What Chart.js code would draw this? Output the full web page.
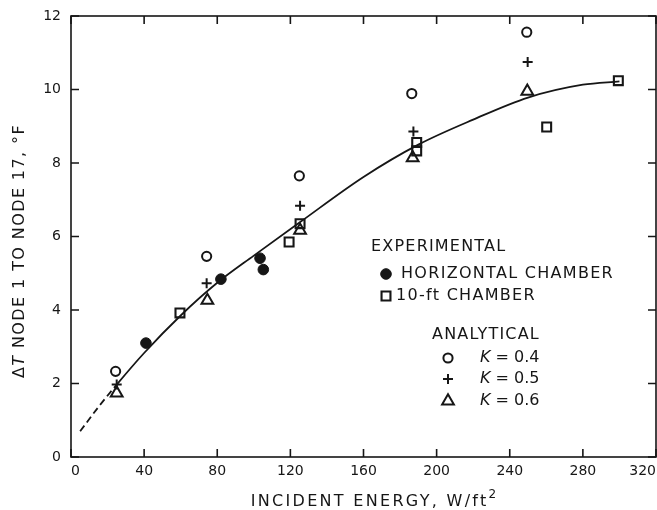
<!DOCTYPE html>
<html>
<head>
<meta charset="utf-8">
<script src="https://cdn.jsdelivr.net/npm/chart.js@4/dist/chart.umd.min.js"></script>
<style>
  html, body { margin: 0; padding: 0; background: #fff; }
  canvas { display: block; }
</style>
</head>
<body>
<canvas id="grafico" width="657" height="510"></canvas>
<script>
// datos
const curvaX = [5, 15, 25, 40, 60, 80, 100, 125, 160, 190, 220, 250, 280, 300];
const curvaY = [0.70, 1.36, 1.97, 2.83, 3.85, 4.74, 5.48, 6.38, 7.62, 8.50, 9.18, 9.78, 10.13, 10.22];

const horizontalX = [41, 82, 103.4, 105.2];
const horizontalY = [3.10, 4.84, 5.41, 5.10];

const camara10X = [59.6, 119.3, 125.3, 189.1, 189.1, 260.2, 299.4];
const camara10Y = [3.92, 5.85, 6.35, 8.56, 8.33, 8.98, 10.24];

const k04X = [24.4, 74.2, 124.9, 186.4, 249.3];
const k04Y = [2.33, 5.46, 7.65, 9.89, 11.56];

const k05X = [25, 74.2, 125.3, 187.3, 249.8];
const k05Y = [1.97, 4.73, 6.84, 8.86, 10.75];

const k06X = [25, 74.6, 125.3, 186.9, 249.6];
const k06Y = [1.74, 4.26, 6.17, 8.14, 9.95];

const ticksX = [0, 40, 80, 120, 160, 200, 240, 280, 320];
const ticksY = [0, 2, 4, 6, 8, 10, 12];

const fuente = 'DejaVu Sans';
const negro = '#161616';

const puntos = (xs, ys) => xs.map((x, i) => ({ x: x, y: ys[i] }));

function escribir(ctx, partes, x, y, rot, alinear) {
  ctx.save();
  ctx.translate(x, y);
  ctx.rotate(rot || 0);
  ctx.textBaseline = 'middle';
  ctx.textAlign = 'left';
  ctx.fillStyle = negro;
  let total = 0;
  partes.forEach(p => {
    ctx.font = p.font;
    ctx.letterSpacing = p.esp || '0px';
    total += ctx.measureText(p.text).width;
  });
  let cx = alinear === 'left' ? 0 : -total / 2;
  partes.forEach(p => {
    ctx.font = p.font;
    ctx.letterSpacing = p.esp || '0px';
    ctx.fillText(p.text, cx, p.dy || 0);
    cx += ctx.measureText(p.text).width;
  });
  ctx.restore();
}

// marco con marcas hacia dentro en los cuatro lados
const marco = {
  id: 'marco',
  afterDraw(chart) {
    const ctx = chart.ctx;
    const a = chart.chartArea;
    const sx = chart.scales.x, sy = chart.scales.y;
    ctx.save();
    ctx.strokeStyle = negro;
    ctx.lineWidth = 1.6;
    ctx.strokeRect(a.left, a.top, a.right - a.left, a.bottom - a.top);
    ctx.beginPath();
    ticksX.forEach(v => {
      const px = sx.getPixelForValue(v);
      ctx.moveTo(px, a.bottom); ctx.lineTo(px, a.bottom - 8);
      ctx.moveTo(px, a.top); ctx.lineTo(px, a.top + 8);
    });
    ticksY.forEach(v => {
      const py = sy.getPixelForValue(v);
      ctx.moveTo(a.left, py); ctx.lineTo(a.left + 8, py);
      ctx.moveTo(a.right, py); ctx.lineTo(a.right - 8, py);
    });
    ctx.stroke();
    ctx.restore();

    // titulos de los ejes
    escribir(ctx, [
      { text: 'INCIDENT ENERGY, W/ft', font: '16px ' + fuente, esp: '2.3px' },
      { text: '2', font: '12px ' + fuente, dy: -7 }
    ], (a.left + a.right) / 2 + 10, 502, 0);
    escribir(ctx, [
      { text: '\u0394', font: '16px ' + fuente, esp: '1.4px' },
      { text: 'T', font: 'italic 16px ' + fuente, esp: '1.4px' },
      { text: ' NODE 1 TO NODE 17, \u00B0F', font: '16px ' + fuente, esp: '1.4px' }
    ], 20, 251, -Math.PI / 2);
  }
};

// leyenda dentro del area del grafico
const leyenda = {
  id: 'leyenda',
  afterDraw(chart) {
    const ctx = chart.ctx;
    const f = '16px ' + fuente;
    const marca = (i, x, y) => {
      const ds = chart.data.datasets[i];
      ctx.save();
      ctx.strokeStyle = ds.borderColor;
      ctx.fillStyle = ds.backgroundColor;
      ctx.lineWidth = ds.borderWidth;
      Chart.helpers.drawPoint(ctx, { pointStyle: ds.pointStyle, radius: ds.pointRadius, rotation: 0, borderWidth: ds.borderWidth }, x, y);
      ctx.restore();
    };
    escribir(ctx, [{ text: 'EXPERIMENTAL', font: f, esp: '1.2px' }], 371, 247, 0, 'left');
    marca(0, 386, 274);
    escribir(ctx, [{ text: chart.data.datasets[0].label, font: f, esp: '1.3px' }], 401, 274, 0, 'left');
    marca(1, 386, 296);
    escribir(ctx, [{ text: chart.data.datasets[1].label, font: f, esp: '1.3px' }], 396, 296, 0, 'left');
    escribir(ctx, [{ text: 'ANALYTICAL', font: f, esp: '1.2px' }], 432, 335, 0, 'left');
    [[2, 358], [3, 379], [4, 401]].forEach(([i, y]) => {
      marca(i, 448, y);
      const lab = chart.data.datasets[i].label;
      escribir(ctx, [
        { text: lab.slice(0, 1), font: 'italic ' + f },
        { text: lab.slice(1), font: f }
      ], 480, y, 0, 'left');
    });
  }
};

const comunes = { showLine: false, borderColor: negro, pointHoverRadius: 0 };

new Chart(document.getElementById('grafico'), {
  type: 'scatter',
  data: {
    datasets: [
      { ...comunes, label: 'HORIZONTAL CHAMBER', data: puntos(horizontalX, horizontalY),
        pointStyle: 'circle', pointRadius: 5.3, backgroundColor: negro, borderWidth: 1 },
      { ...comunes, label: '10-ft CHAMBER', data: puntos(camara10X, camara10Y),
        pointStyle: 'rect', pointRadius: 6.3, backgroundColor: 'rgba(0,0,0,0)', borderWidth: 2.1 },
      { ...comunes, label: 'K = 0.4', data: puntos(k04X, k04Y),
        pointStyle: 'circle', pointRadius: 4.6, backgroundColor: 'rgba(0,0,0,0)', borderWidth: 2 },
      { ...comunes, label: 'K = 0.5', data: puntos(k05X, k05Y),
        pointStyle: 'cross', pointRadius: 5, backgroundColor: 'rgba(0,0,0,0)', borderWidth: 2 },
      { ...comunes, label: 'K = 0.6', data: puntos(k06X, k06Y),
        pointStyle: 'triangle', pointRadius: 6.8, backgroundColor: 'rgba(0,0,0,0)', borderWidth: 2 },
      { label: 'curva', data: puntos(curvaX, curvaY), showLine: true, pointRadius: 0,
        borderColor: negro, borderWidth: 1.8, cubicInterpolationMode: 'monotone', order: 1,
        segment: { borderDash: c => c.p1.parsed.x <= 25 ? [7, 4] : undefined } }
    ]
  },
  options: {
    responsive: false,
    animation: false,
    events: [],
    layout: { autoPadding: false, padding: { top: 16, right: 1, left: 0, bottom: 0 } },
    plugins: { legend: { display: false }, tooltip: { enabled: false } },
    scales: {
      x: {
        type: 'linear', min: 0, max: 320,
        afterFit: s => { s.height = 53; s.paddingLeft = 0; s.paddingRight = 0; },
        afterBuildTicks: s => { s.ticks = ticksX.map(v => ({ value: v })); },
        grid: { display: false, drawTicks: false },
        border: { display: false },
        ticks: { color: negro, font: { family: fuente, size: 14 }, padding: 6, align: 'inner', maxRotation: 0, autoSkip: false }
      },
      y: {
        type: 'linear', min: 0, max: 12,
        afterFit: s => { s.width = 71; s.paddingTop = 0; s.paddingBottom = 0; },
        afterBuildTicks: s => { s.ticks = ticksY.map(v => ({ value: v })); },
        grid: { display: false, drawTicks: false },
        border: { display: false },
        ticks: { color: negro, font: { family: fuente, size: 14 }, padding: 10, autoSkip: false }
      }
    }
  },
  plugins: [marco, leyenda]
});
</script>
</body>
</html>
